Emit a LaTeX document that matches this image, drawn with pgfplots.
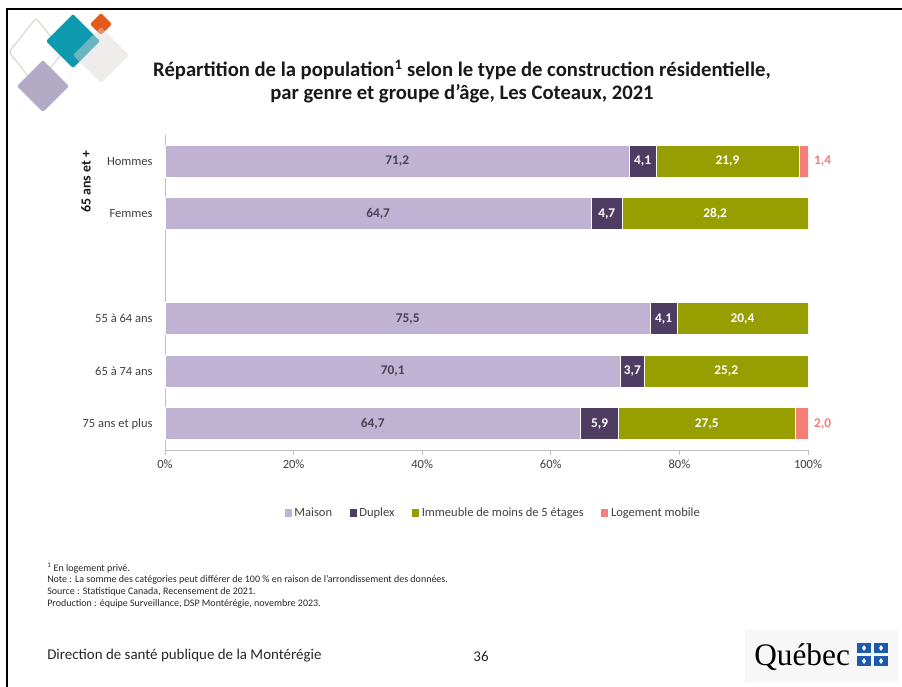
\documentclass[border=0pt]{standalone}
\usepackage{fontspec}
\setmainfont{Carlito}
\newfontfamily\logofont{Liberation Serif}
\usepackage{pgfplots}
\usepackage{pgfplotstable}
\pgfplotsset{compat=1.18}

\definecolor{cMaison}{HTML}{C0B2D2}
\definecolor{cDuplex}{HTML}{4F3C63}
\definecolor{cImm}{HTML}{969E00}
\definecolor{cMob}{HTML}{F47F78}
\definecolor{txt}{HTML}{404040}
\definecolor{lbl}{HTML}{4A4356}
\definecolor{axgray}{HTML}{BFBFBF}
\definecolor{teal}{HTML}{0E9AAE}
\definecolor{orng}{HTML}{E35A1B}
\definecolor{lgray}{HTML}{DCD8D4}
\definecolor{purp}{HTML}{B3ABC6}
\definecolor{outl}{HTML}{D5DBD0}
\definecolor{qblue}{HTML}{1D5AAE}

\pgfplotstableread{
pos maison duplex immeuble mobile
5 71.2 4.1 21.9 1.4
4 64.7 4.7 28.2 0.0
2 75.5 4.1 20.4 0.0
1 70.1 3.7 25.2 0.0
0 64.7 5.9 27.5 2.0
}\datatable

\newcommand{\tot}{(\thisrow{maison}+\thisrow{duplex}+\thisrow{immeuble}+\thisrow{mobile})}

\pgfplotsset{/pgf/number format/assume math mode=true}

\begin{document}
\begin{tikzpicture}
\useasboundingbox (0pt,0pt) rectangle (676.5pt,-514.5pt);
\begin{scope}[x=0.75pt,y=-0.75pt]
\fill[white] (0,0) rectangle (902,686);
% frame
\draw[line width=1.5pt] (905,9) -- (7,9) -- (7,690);
% decorations
\draw[outl,line width=0.9pt,rounded corners=2pt] (36,18) -- (63,52) -- (36,86) -- (9,52) -- cycle;
\fill[purp,rounded corners=1.5pt] (43,60) -- (69,86) -- (43,112) -- (17,86) -- cycle;
\fill[teal,rounded corners=1.5pt] (73,14) -- (100,41) -- (73,68) -- (46,41) -- cycle;
\fill[orng,rounded corners=1.5pt] (101,13) -- (112,24) -- (101,35) -- (90,24) -- cycle;
\fill[lgray,fill opacity=0.45,rounded corners=1.5pt] (101,27) -- (129,55) -- (101,83) -- (73,55) -- cycle;
% title
\node[text=black!90] at (462,70) {\bfseries\fontsize{15.5}{18}\selectfont R\'epartition de la population\textsuperscript{1} selon le type de construction r\'esidentielle,};
\node[text=black!90] at (462,94) {\bfseries\fontsize{15.5}{18}\selectfont par genre et groupe d'\^age, Les Coteaux, 2021};
% group label
\node[rotate=90,text=black!90] at (86,182) {\bfseries\fontsize{10.4}{12}\selectfont 65 ans et +};
% footnotes
\begin{scope}[every node/.style={anchor=west, inner sep=0pt, text=black!85, font=\fontsize{7.5}{9}\selectfont}]
\node at (47,568) {\textsuperscript{1} En logement priv\'e.};
\node at (47,580) {Note : La somme des cat\'egories peut diff\'erer de 100 \% en raison de l'arrondissement des donn\'ees.};
\node at (47,592) {Source : Statistique Canada, Recensement de 2021.};
\node at (47,604) {Production : \'equipe Surveillance, DSP Mont\'er\'egie, novembre 2023.};
\end{scope}
% footer
\node[anchor=west, inner sep=0pt, text=black!85, font=\fontsize{11.2}{13}\selectfont] at (47,656) {Direction de sant\'e publique de la Mont\'er\'egie};
\node[inner sep=0pt, text=black!85, font=\fontsize{11.2}{13}\selectfont] at (481,656) {36};
% logo
\fill[black!3] (745,630) rectangle (898,682);
\node[anchor=west, inner sep=0pt, font=\logofont\fontsize{23.5}{26}\selectfont] at (754,657) {Qu\'ebec};
\foreach \xx in {857,874}{\foreach \yy in {643,656}{
  \fill[qblue] (\xx,\yy) rectangle (\xx+14,\yy+10);
  \fill[white] (\xx+7,\yy+2) -- (\xx+9,\yy+5) -- (\xx+7,\yy+8) -- (\xx+5,\yy+5) -- cycle;
}}
\end{scope}

\begin{axis}[
  at={(123.75pt,-337.5pt)}, anchor=south west,
  scale only axis, width=482.25pt, height=236.25pt,
  xbar stacked, bar width=24pt,
  xmin=0, xmax=100, ymin=-0.5, ymax=5.5,
  axis x line*=bottom, axis y line*=left,
  axis line style={-, axgray, line width=0.75pt},
  xtick={0,20,40,60,80,100},
  xticklabels={0\%,20\%,40\%,60\%,80\%,100\%},
  xtick style={axgray, line width=0.75pt},
  tick align=outside, major tick length=3.75pt,
  ytick={0,1,2,4,5},
  yticklabels={75 ans et plus,65 \`a 74 ans,55 \`a 64 ans,Femmes,Hommes},
  ytick style={draw=none},
  ticklabel style={font=\fontsize{9.4}{10}\selectfont, text=txt},
  yticklabel style={xshift=-2pt},
  legend style={at={(0.511,-0.2)}, anchor=center, draw=none, fill=none,
    legend columns=4, font=\fontsize{9.4}{10}\selectfont, text=txt,
    /tikz/every even column/.append style={column sep=11pt}},
  legend image code/.code={\fill[#1,draw=none] (0pt,-2.7pt) rectangle (5.4pt,2.7pt);},
]
\addplot[fill=cMaison, draw=white, line width=0.4pt] table[x expr=\thisrow{maison}/\tot*100, y=pos] {\datatable};
\addlegendentry{Maison}
\addplot[fill=cDuplex, draw=white, line width=0.4pt] table[x expr=\thisrow{duplex}/\tot*100, y=pos] {\datatable};
\addlegendentry{Duplex}
\addplot[fill=cImm, draw=white, line width=0.4pt] table[x expr=\thisrow{immeuble}/\tot*100, y=pos] {\datatable};
\addlegendentry{Immeuble de moins de 5 \'etages}
\addplot[fill=cMob, draw=white, line width=0.4pt] table[x expr=\thisrow{mobile}/\tot*100, y=pos] {\datatable};
\addlegendentry{Logement mobile}
\end{axis}

\begin{axis}[
  at={(123.75pt,-337.5pt)}, anchor=south west,
  scale only axis, width=482.25pt, height=236.25pt,
  xmin=0, xmax=100, ymin=-0.5, ymax=5.5,
  hide axis, clip=false,
  nodes near coords,
  point meta=explicit,
  every node near coord/.append style={anchor=center, font=\bfseries\fontsize{10}{11}\selectfont,
    /pgf/number format/use comma, /pgf/number format/fixed, /pgf/number format/fixed zerofill, /pgf/number format/precision=1},
]
\addplot[draw=none, mark=none, nodes near coords style={text=lbl}]
  table[x expr=0.5*\thisrow{maison}/\tot*100, y=pos, meta=maison] {\datatable};
\addplot[draw=none, mark=none, nodes near coords style={text=white}]
  table[x expr=(\thisrow{maison}+0.5*\thisrow{duplex})/\tot*100, y=pos, meta=duplex] {\datatable};
\addplot[draw=none, mark=none, nodes near coords style={text=white}]
  table[x expr=(\thisrow{maison}+\thisrow{duplex}+0.5*\thisrow{immeuble})/\tot*100, y=pos, meta=immeuble] {\datatable};
\addplot[draw=none, mark=none, nodes near coords style={text=cMob, anchor=west, xshift=1pt},
  x filter/.expression={\thisrow{mobile}>0 ? x : nan}]
  table[x expr=100, y=pos, meta=mobile] {\datatable};
\end{axis}
\end{tikzpicture}
\end{document}
